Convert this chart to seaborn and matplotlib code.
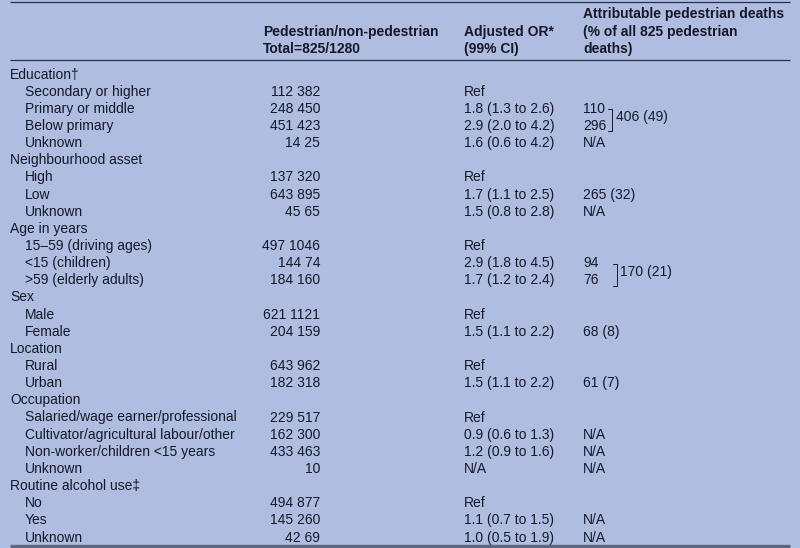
import matplotlib
matplotlib.use("Agg")
import matplotlib.pyplot as plt
import seaborn as sns

# ---------------- data ----------------
col_headers = [
    ["Pedestrian/non-pedestrian", "Total=825/1280"],
    ["Adjusted OR*", "(99% CI)"],
    ["Attributable pedestrian deaths", "(% of all 825 pedestrian", "deaths)"],
]
row_levels = [0, 1, 1, 1, 1,
              0, 1, 1, 1,
              0, 1, 1, 1,
              0, 1, 1,
              0, 1, 1,
              0, 1, 1, 1, 1,
              0, 1, 1, 1]
row_labels = ["Education\u2020", "Secondary or higher", "Primary or middle", "Below primary", "Unknown",
              "Neighbourhood asset", "High", "Low", "Unknown",
              "Age in years", "15\u201359 (driving ages)", "<15 (children)", ">59 (elderly adults)",
              "Sex", "Male", "Female",
              "Location", "Rural", "Urban",
              "Occupation", "Salaried/wage earner/professional", "Cultivator/agricultural labour/other",
              "Non-worker/children <15 years", "Unknown",
              "Routine alcohol use\u2021", "No", "Yes", "Unknown"]
counts = ["", "112 382", "248 450", "451 423", "14 25",
          "", "137 320", "643 895", "45 65",
          "", "497 1046", "144 74", "184 160",
          "", "621 1121", "204 159",
          "", "643 962", "182 318",
          "", "229 517", "162 300", "433 463", "10",
          "", "494 877", "145 260", "42 69"]
odds_ratios = ["", "Ref", "1.8 (1.3 to 2.6)", "2.9 (2.0 to 4.2)", "1.6 (0.6 to 4.2)",
               "", "Ref", "1.7 (1.1 to 2.5)", "1.5 (0.8 to 2.8)",
               "", "Ref", "2.9 (1.8 to 4.5)", "1.7 (1.2 to 2.4)",
               "", "Ref", "1.5 (1.1 to 2.2)",
               "", "Ref", "1.5 (1.1 to 2.2)",
               "", "Ref", "0.9 (0.6 to 1.3)", "1.2 (0.9 to 1.6)", "N/A",
               "", "Ref", "1.1 (0.7 to 1.5)", "1.0 (0.5 to 1.9)"]
attributable = ["", "", "110", "296", "N/A",
                "", "", "265 (32)", "N/A",
                "", "", "94", "76",
                "", "", "68 (8)",
                "", "", "61 (7)",
                "", "", "N/A", "N/A", "N/A",
                "", "", "N/A", "N/A"]
# grouped totals: (first row, last row, text)
group_totals = [(2, 3, "406 (49)"), (11, 12, "170 (21)")]

# ---------------- style ----------------
sns.set_theme(style="white")
plt.rcParams["font.family"] = ["Liberation Sans", "DejaVu Sans"]

BG = "#aebde0"
TXT = "#16182a"
RULE = "#27314a"
FS = 10.0

W, H = 800, 548
fig = plt.figure(figsize=(W / 100, H / 100), dpi=100, facecolor=BG)
ax = fig.add_axes([0, 0, 1, 1])
ax.set_facecolor(BG)
ax.set_xlim(0, W)
ax.set_ylim(H, 0)
ax.axis("off")

x_lvl = [10, 25]
x_count_right = 320
x_count_head = 263
x_or = 464
x_attr = 583

row_y0 = 74.5
row_dy = 17.15

# rules
ax.plot([10, 790], [1.5, 1.5], color=RULE, lw=0.9, solid_capstyle="butt")
ax.plot([10, 790], [60, 60], color=RULE, lw=0.9, solid_capstyle="butt")
ax.plot([10, 790], [546, 546], color="#5c6782", lw=2.4, solid_capstyle="butt")

# headers (bottom aligned to y=49)
head_x = [x_count_head, x_or, x_attr]
for hx, lines in zip(head_x, col_headers):
    n = len(lines)
    for i, line in enumerate(lines):
        y = 49 - (n - 1 - i) * 17.3
        ax.text(hx, y, line, fontsize=FS, fontweight="bold", color=TXT,
                ha="left", va="center")

# body
for i, (lvl, lab, c, o, a) in enumerate(zip(row_levels, row_labels, counts, odds_ratios, attributable)):
    y = row_y0 + i * row_dy
    ax.text(x_lvl[lvl], y, lab, fontsize=FS, color=TXT, ha="left", va="center")
    if c:
        ax.text(x_count_right, y, c, fontsize=FS, color=TXT, ha="right", va="center")
    if o:
        ax.text(x_or, y, o, fontsize=FS, color=TXT, ha="left", va="center")
    if a:
        ax.text(x_attr, y, a, fontsize=FS, color=TXT, ha="left", va="center")

# brackets
for (r0, r1, txt), bx in zip(group_totals, [611.5, 616.5]):
    y0 = row_y0 + r0 * row_dy
    y1 = row_y0 + r1 * row_dy
    mid = (y0 + y1) / 2 + 3
    top, bot = mid - 11, mid + 11
    ax.plot([bx - 4, bx, bx, bx - 4], [top, top, bot, bot], color=TXT, lw=0.7)
    ax.text(bx + 4, (y0 + y1) / 2, txt, fontsize=FS, color=TXT, ha="left", va="center")

fig.savefig("out.png", dpi=100, facecolor=BG)
